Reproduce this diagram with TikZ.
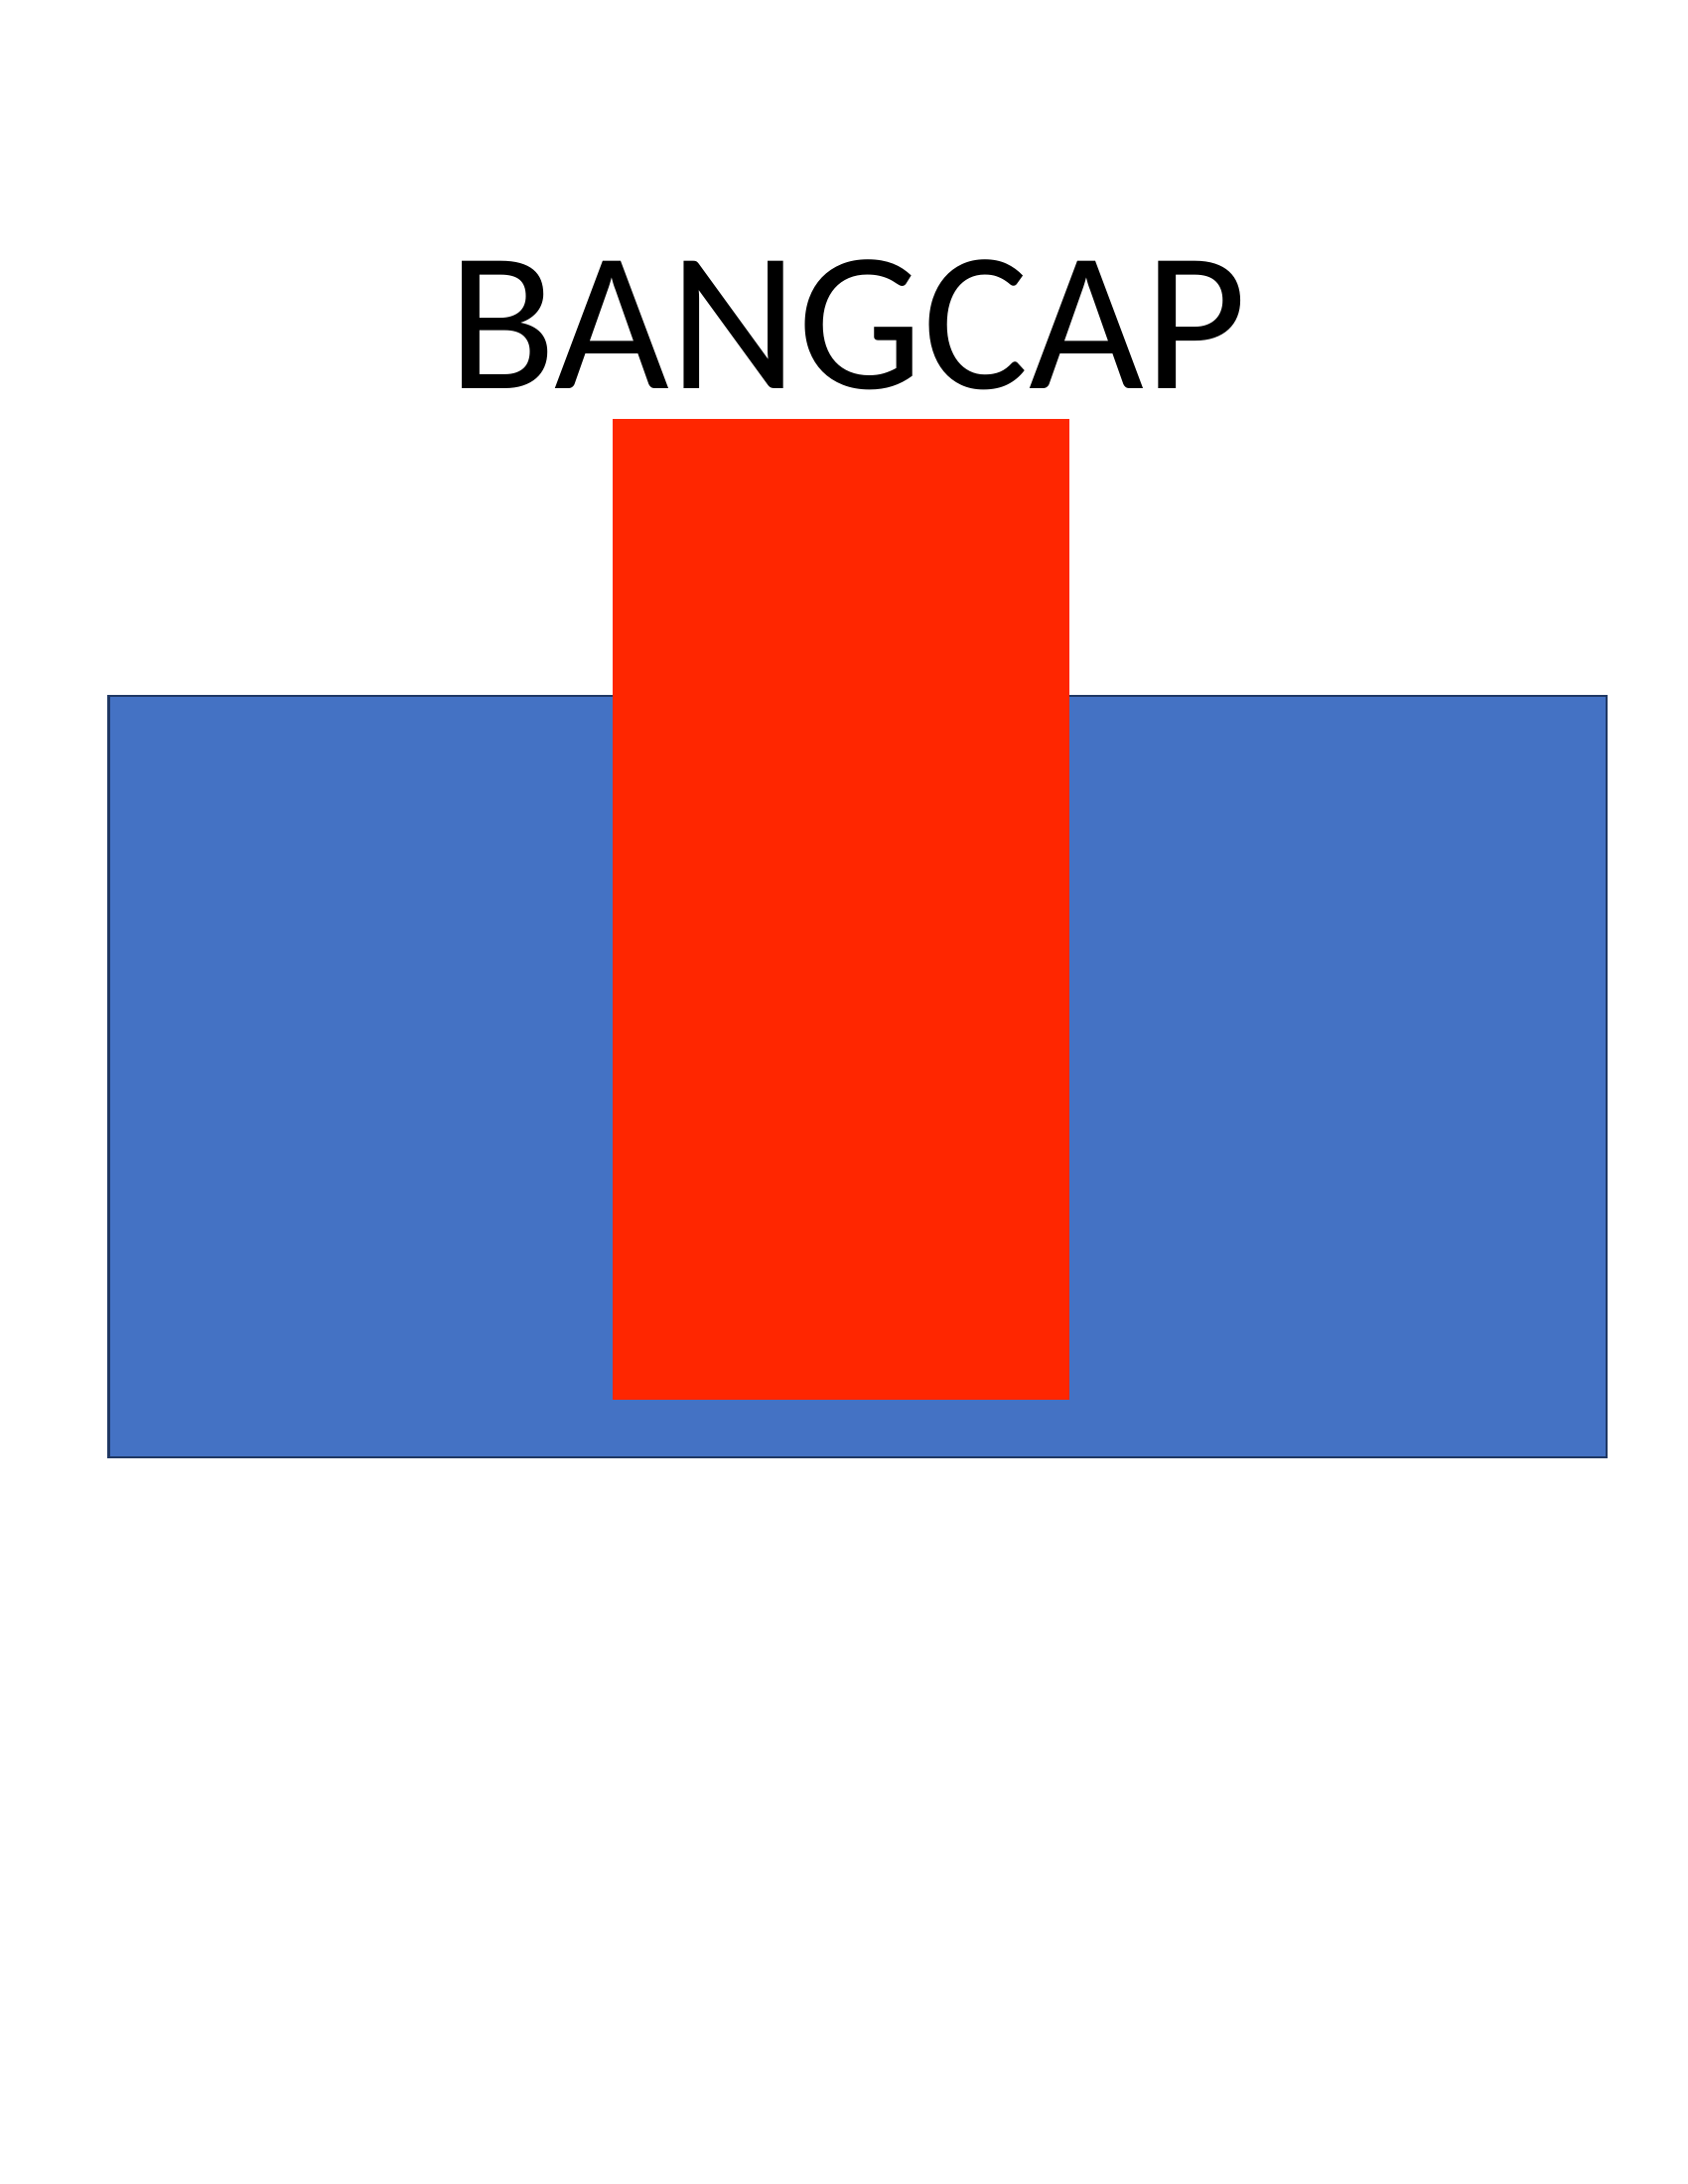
\documentclass[tikz,border=0pt]{standalone}
\usepackage{fontspec}
\setmainfont{Carlito}
\definecolor{bluefill}{HTML}{4472C4}
\definecolor{blueedge}{HTML}{1F3864}
\definecolor{redfill}{HTML}{FF2600}
\tikzset{
  basebox/.style={fill=bluefill, draw=blueedge, line width=1pt},
  capbox/.style={fill=redfill, draw=none},
  titletext/.style={font=\fontsize{72}{86}\selectfont, inner sep=0pt, anchor=base}
}
\begin{document}
\begin{tikzpicture}[x=0.36pt, y=-0.36pt]
\useasboundingbox (0,0) rectangle (1700,2200);
\fill[white] (0,0) rectangle (1700,2200);
\draw[basebox] (109.5,701) rectangle (1618,1468);
\fill[capbox] (617,422) rectangle (1076.5,1410);
\node[titletext] (title) at (853.5,391) {BANGCAP};
\end{tikzpicture}
\end{document}
